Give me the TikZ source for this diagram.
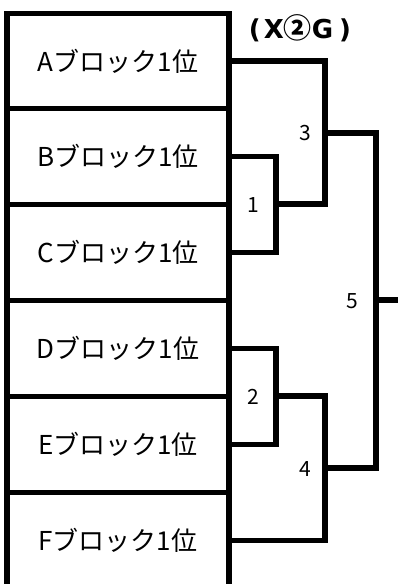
\documentclass[tikz,border=0pt]{standalone}
\usepackage{fontspec}
\setmainfont{Noto Sans CJK JP}
\newfontfamily\titlefont{DejaVu Sans}
\newfontfamily\circfont{Noto Sans CJK JP}
\begin{document}
\begin{tikzpicture}[x=1pt,y=-1pt,
  team/.style={draw,line width=5.5pt,minimum width=222pt,inner sep=0pt,font=\fontsize{26}{28}\selectfont},
  wire/.style={line width=5.5pt,line join=miter},
  num/.style={font=\fontsize{21}{23}\selectfont,inner sep=0pt}]
\useasboundingbox (0,0) rectangle (398,584);
\node[team,minimum height=95pt] (A) at (118,61) {Aブロック1位};
\node[team,minimum height=96pt] (B) at (118,156.5) {Bブロック1位};
\node[team,minimum height=96pt] (C) at (118,252.5) {Cブロック1位};
\node[team,minimum height=96pt] (D) at (118,348.5) {Dブロック1位};
\node[team,minimum height=96pt] (E) at (118,444.5) {Eブロック1位};
\node[team,minimum height=96pt] (F) at (118,540.5) {Fブロック1位};
\coordinate (j1) at (276,204);
\coordinate (j2) at (276,396);
\coordinate (c3) at (325,204);
\coordinate (m3) at (325,133);
\coordinate (c4) at (325,396);
\coordinate (m4) at (325,468);
\coordinate (t5) at (376,133);
\coordinate (b5) at (376,468);
\coordinate (m5) at (376,300);
\coordinate (out) at (400,300);
\draw[wire] (B.east) -| (j1) |- (C.east);
\draw[wire] (D.east) -| (j2) |- (E.east);
\draw[wire] (A.east) -| (c3) -- (j1);
\draw[wire] (j2) -- (c4) |- (F.east);
\draw[wire] (m3) -- (t5) -- (b5) -- (m4);
\draw[wire] (m5) -- (out);
\node[num] (n1) at (253,205) {1};
\node[num] (n2) at (253,397) {2};
\node[num] (n3) at (305,133) {3};
\node[num] (n4) at (305,469) {4};
\node[num] (n5) at (352,301) {5};
\node[font=\fontsize{26}{28}\selectfont\titlefont\bfseries,inner sep=0pt] (title) at (300,28) {(\hspace{3pt}X{\circfont\bfseries\fontsize{28}{30}\selectfont ②}G\hspace{6pt})};
\end{tikzpicture}
\end{document}
